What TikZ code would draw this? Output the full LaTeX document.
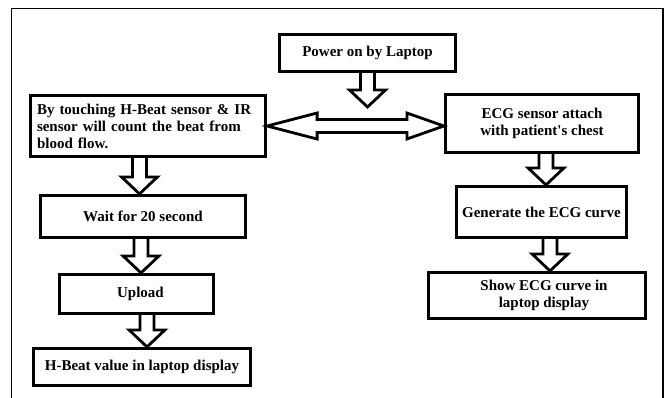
\documentclass[tikz,border=0pt]{standalone}
\usepackage{fontspec}
\setmainfont{Liberation Serif}
\usetikzlibrary{calc}
\tikzset{
  box/.style={draw=black, line width=3.2pt, fill=white, inner sep=0pt,
    font=\fontsize{15}{17}\selectfont\bfseries, align=center},
  blk/.style={draw=black, line width=2.8pt, line join=miter, fill=white},
  frame/.style={draw=black, line width=1.6pt}
}
% down block arrow from node #1 to node #2, shaft centred at x=#3
\newcommand\blkdown[3]{%
  \draw[blk] let \p1=(#1.south), \p2=(#2.north), \p3=(#3,0) in
    (\x3-7pt,\y1) -- (\x3-7pt,\y2+17pt) -- (\x3-18pt,\y2+17pt) -- (\x3,\y2)
    -- (\x3+18pt,\y2+17pt) -- (\x3+7pt,\y2+17pt) -- (\x3+7pt,\y1);}
\begin{document}
\begin{tikzpicture}[x=1pt,y=-1pt]
\useasboundingbox (0,0) rectangle (670,397);
\fill[white] (0,0) rectangle (670,397);
\draw[frame] (11.5,398) -- (11.5,8.5) -- (663,8.5) -- (663,398);

\node[box, minimum width=176pt, minimum height=37pt] (power) at (367.5,53) {Power on by Laptop};
\node[box, minimum width=235pt, minimum height=61pt, text width=222pt, align=left] (hb) at (148,126)
  {By touching H-Beat sensor \& IR\\sensor will count the beat from\\blood flow.};
\node[box, minimum width=193pt, minimum height=58pt] (ecg) at (542,123.5) {ECG sensor attach\\with patient\textquotesingle s chest};
\node[box, minimum width=205pt, minimum height=42pt] (wait) at (143,216.5) {Wait for 20 second};
\node[box, minimum width=154pt, minimum height=39pt] (upload) at (136.5,294) {\hspace*{8pt}Upload};
\node[box, minimum width=217pt, minimum height=37pt] (hbv) at (142,367) {H-Beat value in laptop display};
\node[box, minimum width=170pt, minimum height=51pt] (gen) at (541.5,212) {Generate the ECG curve};
\node[box, minimum width=217pt, minimum height=46pt] (show) at (537,295.5) {\hspace*{14pt}Show ECG curve in\\\hspace*{14pt}laptop display};

\coordinate (ptip) at (367.5,107);
\blkdown{power}{ptip}{367.5}
\blkdown{hb}{wait}{139.5}
\blkdown{wait}{upload}{141}
\blkdown{upload}{hbv}{147}
\blkdown{ecg}{gen}{546}
\blkdown{gen}{show}{550}

\draw[blk] let \p1=(hb.east), \p2=(ecg.west) in
  (\x1,\y1) -- (\x1+50pt,\y1+13pt) -- (\x1+50pt,\y1+6.5pt) -- (\x2-37pt,\y1+6.5pt)
  -- (\x2-37pt,\y1+13pt) -- (\x2,\y1) -- (\x2-37pt,\y1-13pt) -- (\x2-37pt,\y1-6.5pt)
  -- (\x1+50pt,\y1-6.5pt) -- (\x1+50pt,\y1-13pt) -- cycle;
\end{tikzpicture}
\end{document}
